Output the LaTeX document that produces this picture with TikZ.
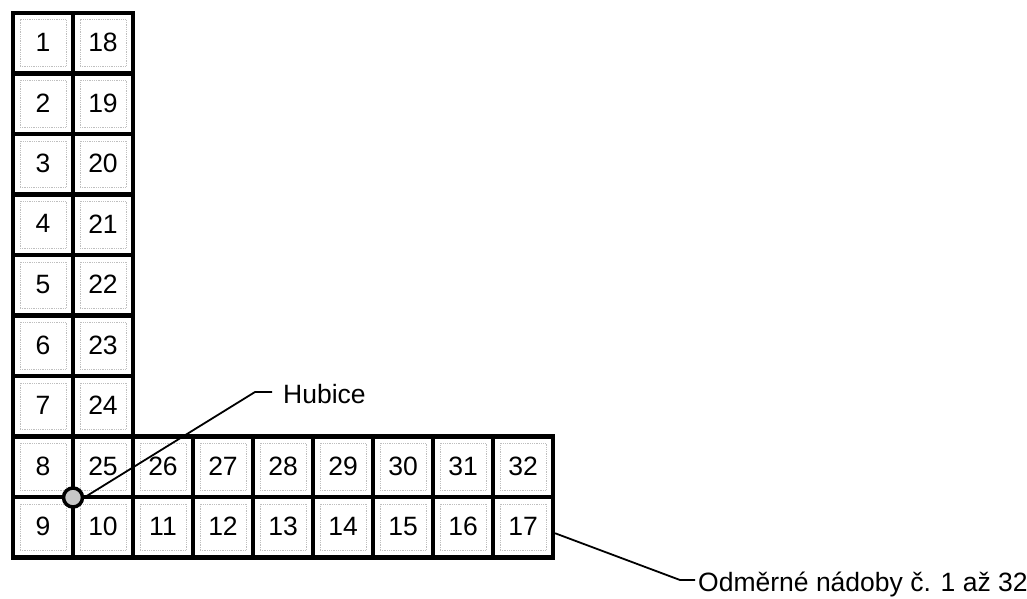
\documentclass[tikz,border=0pt]{standalone}
\usepackage{fontspec}
\setmainfont{Liberation Sans}
\usetikzlibrary{calc}
\begin{document}
\begin{tikzpicture}[x=1pt,y=-1pt,
  cellbox/.style={draw=black, line width=4.2pt, minimum width=60pt, minimum height=60.5pt, inner sep=0pt, font=\fontsize{26.5}{30}\selectfont},
  innerdots/.style={draw=black!25, densely dotted, line width=0.8pt},
  leader/.style={draw=black, line width=1.8pt},
  lbl/.style={inner sep=0pt, font=\fontsize{26.5}{30}\selectfont}]
\useasboundingbox (0,0) rectangle (1027,599);
\foreach \n/\c/\r in {1/0/0,2/0/1,3/0/2,4/0/3,5/0/4,6/0/5,7/0/6,8/0/7,9/0/8,
  18/1/0,19/1/1,20/1/2,21/1/3,22/1/4,23/1/5,24/1/6,25/1/7,10/1/8,
  26/2/7,27/3/7,28/4/7,29/5/7,30/6/7,31/7/7,32/8/7,
  11/2/8,12/3/8,13/4/8,14/5/8,15/6/8,16/7/8,17/8/8}{
  \node[cellbox] (c\n) at ({43+60*\c},{43.25+60.5*\r}) {\raisebox{2pt}{\n}};
  \draw[innerdots] ($(c\n.north west)+(9,9)$) rectangle ($(c\n.south east)+(-9,-9)$);
}
\node[circle, draw=black, line width=3.5pt, fill=black!22, minimum size=19pt, inner sep=0pt] (nozzle) at (73,497.5) {};
\coordinate (hknee) at (255,392);
\node[lbl, anchor=base west] (hubice) at (283,403) {Hubice};
\draw[leader] (nozzle.east) -- (hknee) -- ([xshift=-11pt]hknee -| hubice.west);
\coordinate (oknee) at (680,580);
\node[lbl, anchor=base west] (odm) at (698,591) {Odměrné nádoby č. 1 až 32};
\draw[leader] ([yshift=-6pt]c17.east) -- (oknee) -- ([xshift=-3pt]oknee -| odm.west);
\end{tikzpicture}
\end{document}
